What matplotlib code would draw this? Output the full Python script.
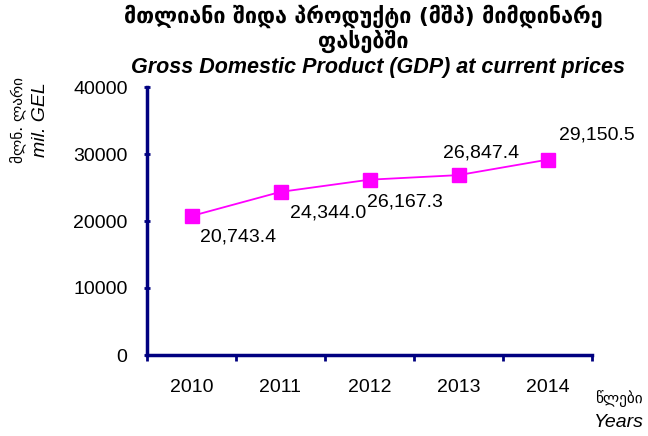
import matplotlib
matplotlib.use("Agg")
import matplotlib.pyplot as plt

years = ["2010", "2011", "2012", "2013", "2014"]
gdp = [20743.4, 24344.0, 26167.3, 26847.4, 29150.5]
label_text = ["20,743.4", "24,344.0", "26,167.3", "26,847.4", "29,150.5"]
yticks = [0, 10000, 20000, 30000, 40000]

plt.rcParams['font.family'] = ['Liberation Sans', 'DejaVu Sans']
fig = plt.figure(figsize=(6.48, 4.36), dpi=100)
ax = fig.add_axes([147/648, 1-355/436, (592-147)/648, (355-87)/436])

x = list(range(1, len(years)+1))
ax.plot(x, gdp, color='#ff00ff', lw=1.3, marker='s', ms=10, mfc='#ff00ff', mec='#ff00ff')
ax.set_xlim(0.5, 5.5)
ax.set_ylim(0, 40000)
ax.set_yticks(yticks)
ax.set_yticklabels([str(v) for v in yticks], fontsize=14)
ax.set_xticks([i + 0.5 for i in range(0, 6)], minor=False)
ax.set_xticklabels([])
ax.set_xticks(x, minor=True)
ax.set_xticklabels(years, minor=True, fontsize=14)
ax.tick_params(axis='x', which='minor', length=0, pad=17)
ax.tick_params(axis='x', which='major', length=4, width=2, color='#000080', direction='out')
ax.tick_params(axis='y', length=4, width=2, color='#000080', direction='inout', pad=12)
for s in ['top', 'right']:
    ax.spines[s].set_visible(False)
for s in ['left', 'bottom']:
    ax.spines[s].set_color('#000080')
    ax.spines[s].set_linewidth(2.5)

# offsets in points (dx, dy) from each point to the label's left/centre
offsets = [(6, -15), (7, -15), (-1.5, -16), (-11, 16), (8, 18)]
for xi, yi, t, (dx, dy) in zip(x, gdp, label_text, offsets):
    ax.annotate(t, (xi, yi), xytext=(dx, dy), textcoords='offset points', ha='left', va='center', fontsize=14)

fig.text(0.56, 0.962, "მთლიანი შიდა პროდუქტი (მშპ) მიმდინარე", ha='center', va='center',
         fontsize=15.5, fontweight='bold', family='DejaVu Sans')
fig.text(0.56, 0.905, "ფასებში", ha='center', va='center',
         fontsize=15.5, fontweight='bold', family='DejaVu Sans')
fig.text(0.583, 0.846, "Gross Domestic Product (GDP) at current prices", ha='center', va='center',
         fontsize=15.5, fontweight='bold', style='italic')

fig.text(0.027, 0.725, "მლნ. ლარი", rotation=90, ha='center', va='center', fontsize=11, family='DejaVu Sans')
fig.text(0.062, 0.725, "mil. GEL", rotation=90, ha='center', va='center', fontsize=14, style='italic')
fig.text(0.955, 0.087, "წლები", ha='center', va='center', fontsize=11, family='DejaVu Sans')
fig.text(0.955, 0.032, "Years", ha='center', va='center', fontsize=14, style='italic')

fig.savefig("out.png", dpi=100)
